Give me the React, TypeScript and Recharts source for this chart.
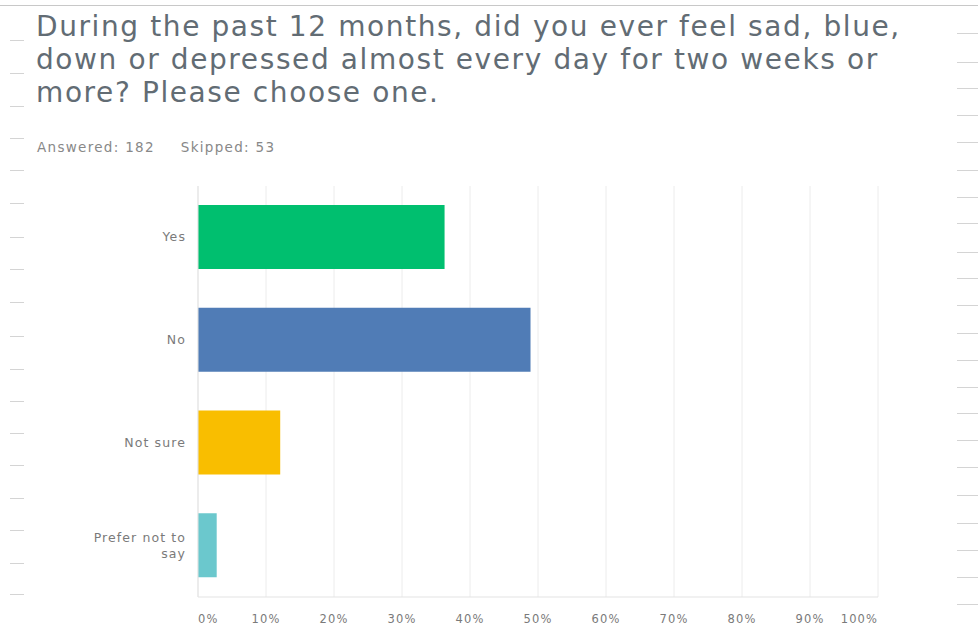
import { BarChart, Bar, XAxis, YAxis, CartesianGrid, Cell } from 'recharts';

const categories = ['Yes', 'No', 'Not sure', 'Prefer not to say'];
const responses = [36.26, 48.9, 12.09, 2.75];
const xTicks = [0, 10, 20, 30, 40, 50, 60, 70, 80, 90, 100];

const titleLines = [
  'During the past 12 months, did you ever feel sad, blue,',
  'down or depressed almost every day for two weeks or',
  'more? Please choose one.',
];

const BAR_COLORS = ['#00bf6f', '#507cb6', '#f9be00', '#6bc8cd'];
const FONT = '"DejaVu Sans", Verdana, sans-serif';

const data = categories.map((name, i) => ({ name, value: responses[i] }));

// decorative page edge dashes seen in the screenshot
const leftDashes = [40, 73, 106, 138, 170, 203, 237, 269, 302, 336, 369, 401, 433, 465, 498, 530, 563, 594];
const rightDashes = [33, 62, 88, 115, 142, 170, 197, 223, 252, 278, 305, 333, 360, 387, 413, 440, 467, 495, 523, 550, 577, 604];

function XTick(props: any) {
  const { x, y, payload, index, visibleTicksCount } = props;
  let anchor: 'start' | 'middle' | 'end' = 'middle';
  if (index === 0) anchor = 'start';
  if (index === visibleTicksCount - 1) anchor = 'end';
  return (
    <text
      x={x}
      y={y + 18}
      textAnchor={anchor}
      fill="#7a7a7a"
      fontSize={11.5}
      fontFamily={FONT}
      style={{ letterSpacing: 1.1 }}
    >
      {`${payload.value}%`}
    </text>
  );
}

function YTick(props: any) {
  const { x, y, payload } = props;
  const label: string = payload.value;
  const lines = label === 'Prefer not to say' ? ['Prefer not to', 'say'] : [label];
  const start = y - ((lines.length - 1) * 16) / 2 + 4;
  return (
    <text
      x={x - 4}
      y={start}
      textAnchor="end"
      fill="#7a7a7a"
      fontSize={12.5}
      fontFamily={FONT}
      style={{ letterSpacing: 1.1 }}
    >
      {lines.map((l, i) => (
        <tspan key={i} x={x - 4} dy={i === 0 ? 0 : 16}>
          {l}
        </tspan>
      ))}
    </text>
  );
}

export default function App() {
  return (
    <div style={{ position: 'absolute', left: 0, top: 0, width: 978, height: 628, background: '#fff', overflow: 'hidden' }}>
      <div style={{ position: 'absolute', left: 0, top: 5, width: 978, height: 1, background: '#c8c8c8' }} />
      {leftDashes.map((y) => (
        <div key={`l${y}`} style={{ position: 'absolute', left: 10, top: y, width: 14, height: 1, background: '#d4d4d4' }} />
      ))}
      {rightDashes.map((y) => (
        <div key={`r${y}`} style={{ position: 'absolute', left: 957, top: y, width: 21, height: 1, background: '#d4d4d4' }} />
      ))}
      {titleLines.map((line, i) => (
        <div
          key={i}
          style={{
            position: 'absolute',
            left: 36,
            top: 10 + i * 33,
            height: 33,
            whiteSpace: 'nowrap',
            fontFamily: FONT,
            fontSize: 28,
            letterSpacing: 1.6,
            lineHeight: '33px',
            color: '#626c74',
          }}
        >
          {line}
        </div>
      ))}
      <div
        style={{
          position: 'absolute',
          left: 37,
          top: 139,
          whiteSpace: 'nowrap',
          fontFamily: FONT,
          fontSize: 13.5,
          letterSpacing: 1.3,
          color: '#888',
        }}
      >
        Answered: 182<span style={{ marginLeft: 26 }}>Skipped: 53</span>
      </div>
      <div style={{ position: 'absolute', left: 0, top: 0 }}>
        <BarChart
          width={978}
          height={628}
          data={data}
          layout="vertical"
          margin={{ top: 186, right: 100, bottom: 1, left: 0 }}
        >
          <CartesianGrid horizontal={false} stroke="#ececec" />
          <XAxis
            type="number"
            domain={[0, 100]}
            ticks={xTicks}
            interval={0}
            height={30}
            axisLine={{ stroke: '#e3e3e3' }}
            tickLine={false}
            tick={<XTick />}
          />
          <YAxis
            type="category"
            dataKey="name"
            width={198}
            axisLine={{ stroke: '#e3e3e3' }}
            tickLine={false}
            tick={<YTick />}
          />
          <Bar dataKey="value" barSize={64} isAnimationActive={false}>
            {data.map((d, i) => (
              <Cell key={d.name} fill={BAR_COLORS[i]} />
            ))}
          </Bar>
        </BarChart>
      </div>
    </div>
  );
}
